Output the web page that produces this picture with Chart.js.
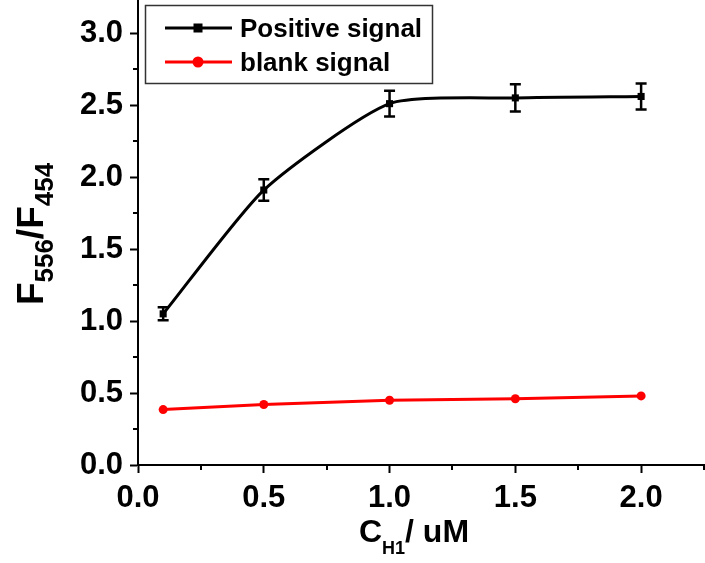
<!DOCTYPE html>
<html>
<head>
<meta charset="utf-8">
<script src="https://cdn.jsdelivr.net/npm/chart.js@4/dist/chart.umd.min.js"></script>
<style>
  html, body { margin: 0; padding: 0; background: #fff; }
  canvas { display: block; }
</style>
</head>
<body>
<canvas id="chart" width="705" height="563"></canvas>
<script>
// Concentration of H1 (uM) and measured F556/F454 ratios
const concentrations = [0.1, 0.5, 1.0, 1.5, 2.0];
const positiveSignal = [1.05, 1.91, 2.51, 2.55, 2.56];
const positiveError = [0.045, 0.075, 0.09, 0.095, 0.09];
const blankSignal = [0.385, 0.42, 0.45, 0.46, 0.48];

// Axis ticks
const xTickValues = [0, 0.5, 1.0, 1.5, 2.0];
const xMinorTicks = [0.25, 0.75, 1.25, 1.75, 2.25];
const yTickValues = [0, 0.5, 1.0, 1.5, 2.0, 2.5, 3.0];
const yMinorTicks = [0.25, 0.75, 1.25, 1.75, 2.25, 2.75];

const seriesNames = ['Positive signal', 'blank signal'];
const seriesColors = ['#000000', '#ff0000'];

const FONT = '"Liberation Sans", Arial, Helvetica, sans-serif';

// Vertical error bars with caps for the positive series
const errorBars = {
  id: 'errorBars',
  afterDatasetsDraw(chart) {
    const { ctx, scales: { x, y } } = chart;
    ctx.save();
    ctx.strokeStyle = '#000';
    ctx.lineWidth = 2.5;
    concentrations.forEach((c, i) => {
      const px = x.getPixelForValue(c);
      const top = y.getPixelForValue(positiveSignal[i] + positiveError[i]);
      const bot = y.getPixelForValue(positiveSignal[i] - positiveError[i]);
      ctx.beginPath();
      ctx.moveTo(px, top); ctx.lineTo(px, bot);
      ctx.moveTo(px - 5.5, top); ctx.lineTo(px + 5.5, top);
      ctx.moveTo(px - 5.5, bot); ctx.lineTo(px + 5.5, bot);
      ctx.stroke();
    });
    ctx.restore();
  }
};

// Minor tick marks outside the axes
const minorTicks = {
  id: 'minorTicks',
  afterDraw(chart) {
    const { ctx, chartArea, scales: { x, y } } = chart;
    ctx.save();
    ctx.strokeStyle = '#000';
    ctx.lineWidth = 2;
    ctx.beginPath();
    yMinorTicks.forEach(v => {
      const py = Math.round(y.getPixelForValue(v));
      ctx.moveTo(chartArea.left - 5, py); ctx.lineTo(chartArea.left, py);
    });
    xMinorTicks.forEach(v => {
      const px = Math.round(x.getPixelForValue(v));
      ctx.moveTo(px, chartArea.bottom); ctx.lineTo(px, chartArea.bottom + 5);
    });
    ctx.stroke();
    ctx.restore();
  }
};

// Draws a run of text pieces, some as subscripts, starting at (x0, 0)
function drawRuns(ctx, runs, x0) {
  let cx = x0;
  runs.forEach(r => {
    ctx.font = 'bold ' + r.size + 'px ' + FONT;
    ctx.fillText(r.text, cx, r.dy);
    cx += ctx.measureText(r.text).width;
  });
}
function runsWidth(ctx, runs) {
  let w = 0;
  runs.forEach(r => {
    ctx.font = 'bold ' + r.size + 'px ' + FONT;
    w += ctx.measureText(r.text).width;
  });
  return w;
}

// Axis titles with subscripts
const axisTitles = {
  id: 'axisTitles',
  afterDraw(chart) {
    const { ctx } = chart;
    ctx.save();
    ctx.fillStyle = '#000';
    ctx.textBaseline = 'alphabetic';
    ctx.textAlign = 'left';

    const xRuns = [
      { text: 'C', size: 32, dy: 0 },
      { text: 'H1', size: 18, dy: 12 },
      { text: '/ uM', size: 32, dy: 0 }
    ];
    const xw = runsWidth(ctx, xRuns);
    ctx.save();
    ctx.translate(414, 542);
    drawRuns(ctx, xRuns, -xw / 2);
    ctx.restore();

    const yRuns = [
      { text: 'F', size: 37, dy: 0 },
      { text: '556', size: 26, dy: 10 },
      { text: '/F', size: 37, dy: 0 },
      { text: '454', size: 26, dy: 10 }
    ];
    const yw = runsWidth(ctx, yRuns);
    ctx.save();
    ctx.translate(43, 234);
    ctx.rotate(-Math.PI / 2);
    drawRuns(ctx, yRuns, -yw / 2);
    ctx.restore();

    ctx.restore();
  }
};

// Boxed legend with line-and-marker samples
const boxLegend = {
  id: 'boxLegend',
  afterDraw(chart) {
    const { ctx } = chart;
    ctx.save();
    ctx.strokeStyle = '#333';
    ctx.lineWidth = 1.5;
    ctx.strokeRect(145.5, 5.5, 287, 78);

    const rows = [28, 62];
    const baselines = [37, 71];
    seriesNames.forEach((name, i) => {
      const yy = rows[i];
      ctx.strokeStyle = seriesColors[i];
      ctx.fillStyle = seriesColors[i];
      ctx.lineWidth = 3;
      ctx.beginPath();
      ctx.moveTo(165, yy); ctx.lineTo(232, yy);
      ctx.stroke();
      if (i === 0) {
        ctx.fillRect(198 - 4.5, yy - 4.5, 9, 9);
      } else {
        ctx.beginPath();
        ctx.arc(198, yy, 5.5, 0, Math.PI * 2);
        ctx.fill();
      }
      ctx.fillStyle = '#000';
      ctx.font = 'bold 26px ' + FONT;
      ctx.textBaseline = 'alphabetic';
      ctx.fillText(name, 240, baselines[i]);
    });
    ctx.restore();
  }
};

const tickFont = { family: FONT, size: 31, weight: 'bold' };

new Chart(document.getElementById('chart'), {
  type: 'line',
  data: {
    datasets: [
      {
        label: seriesNames[0],
        data: concentrations.map((c, i) => ({ x: c, y: positiveSignal[i] })),
        borderColor: seriesColors[0],
        backgroundColor: seriesColors[0],
        borderWidth: 3,
        pointStyle: 'rect',
        pointRadius: 5,
        pointBorderWidth: 0,
        tension: 0.2
      },
      {
        label: seriesNames[1],
        data: concentrations.map((c, i) => ({ x: c, y: blankSignal[i] })),
        borderColor: seriesColors[1],
        backgroundColor: seriesColors[1],
        borderWidth: 3,
        pointStyle: 'circle',
        pointRadius: 4.5,
        pointBorderWidth: 0,
        tension: 0
      }
    ]
  },
  options: {
    responsive: false,
    animation: false,
    devicePixelRatio: 1,
    layout: { autoPadding: false, padding: { top: 0, right: 1, bottom: 0, left: 0 } },
    plugins: {
      legend: { display: false },
      tooltip: { enabled: false }
    },
    scales: {
      x: {
        type: 'linear',
        min: 0,
        max: 2.25,
        afterBuildTicks: s => { s.ticks = xTickValues.map(v => ({ value: v })); },
        afterFit: s => { s.height = 98; s.paddingLeft = 0; s.paddingRight = 0; },
        ticks: {
          font: tickFont,
          color: '#000',
          padding: 7,
          maxRotation: 0,
          autoSkip: false,
          callback: v => Number(v).toFixed(1)
        },
        grid: {
          display: true,
          drawOnChartArea: false,
          drawTicks: true,
          tickLength: 8,
          tickWidth: 2,
          tickColor: '#000'
        },
        border: { display: true, color: '#000', width: 2 }
      },
      y: {
        type: 'linear',
        min: 0,
        max: 3.23,
        afterBuildTicks: s => { s.ticks = yTickValues.map(v => ({ value: v })); },
        afterFit: s => { s.width = 138; s.paddingTop = 0; s.paddingBottom = 0; },
        ticks: {
          font: tickFont,
          color: '#000',
          padding: 7,
          autoSkip: false,
          callback: v => Number(v).toFixed(1)
        },
        grid: {
          display: true,
          drawOnChartArea: false,
          drawTicks: true,
          tickLength: 8,
          tickWidth: 2,
          tickColor: '#000'
        },
        border: { display: true, color: '#000', width: 2 }
      }
    }
  },
  plugins: [errorBars, minorTicks, axisTitles, boxLegend]
});
</script>
</body>
</html>
